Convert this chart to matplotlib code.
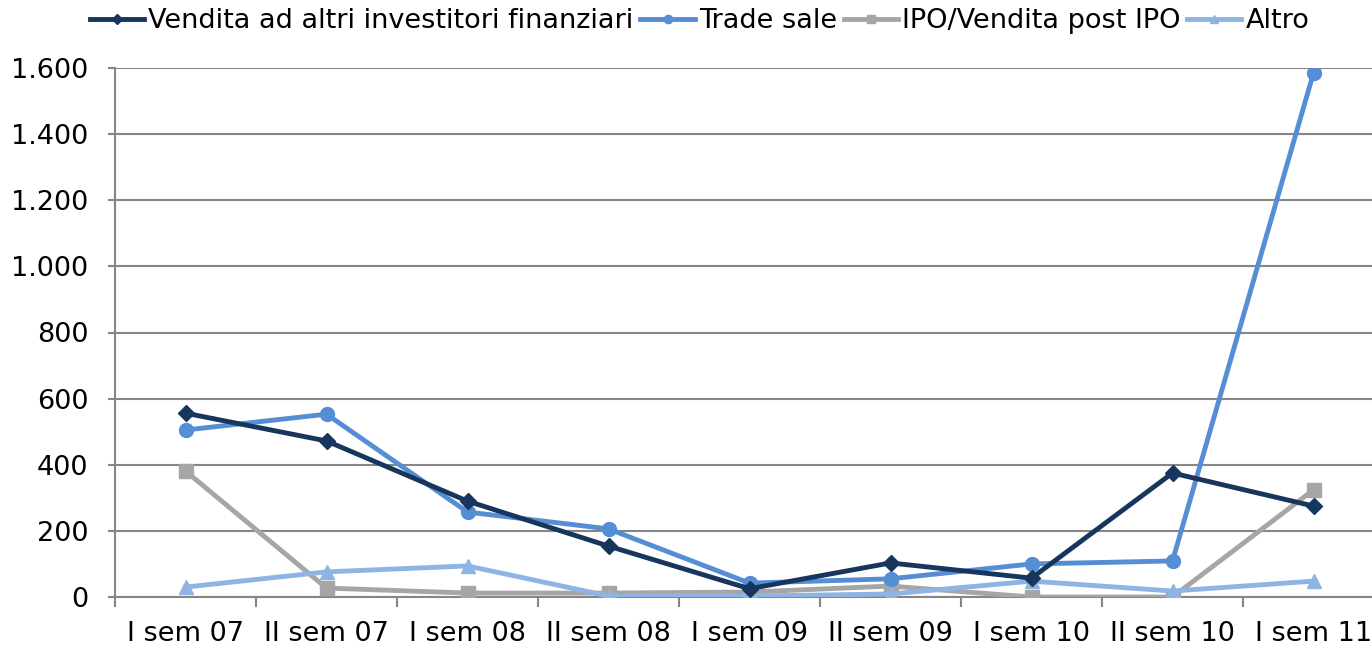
import matplotlib
matplotlib.use("Agg")
import matplotlib.pyplot as plt
import numpy as np

# Data
categorie = ['I sem 07', 'II sem 07', 'I sem 08', 'II sem 08', 'I sem 09',
             'II sem 09', 'I sem 10', 'II sem 10', 'I sem 11']
vendita_investitori = [556, 472, 290, 154, 25, 103, 57, 375, 275]
trade_sale = [505, 553, 257, 206, 42, 55, 100, 109, 1585]
ipo_vendita = [381, 27, 12, 12, 15, 33, 0, 0, 324]
altro = [30, 76, 94, 3, 3, 9, 48, 18, 48]

plt.rcParams['font.family'] = ['DejaVu Sans']
fs = 19.5

fig = plt.figure(figsize=(13.72, 6.46), dpi=100)
ax = fig.add_axes([115/1372, 49/646, 1269/1372, 529/646])

x = np.arange(len(categorie))
ax.plot(x, vendita_investitori, color='#17365D', lw=3.5, marker='D', ms=8,
        label='Vendita ad altri investitori finanziari', zorder=5)
ax.plot(x, trade_sale, color='#558ED5', lw=3.5, marker='o', ms=10,
        label='Trade sale', zorder=4)
ax.plot(x, ipo_vendita, color='#A6A6A6', lw=3.5, marker='s', ms=10,
        label='IPO/Vendita post IPO', zorder=3)
ax.plot(x, altro, color='#8EB4E3', lw=3.5, marker='^', ms=10,
        label='Altro', zorder=3)

ax.set_xlim(-0.5, len(categorie) - 0.5)
ax.set_ylim(0, 1600)
ax.set_yticks(np.arange(0, 1601, 200))
ax.set_yticklabels([f'{v:,}'.replace(',', '.') for v in range(0, 1601, 200)])
ax.set_xticks(x)
ax.set_xticklabels(categorie)
ax.set_xticks(np.arange(-0.5, len(categorie), 1), minor=True)

ax.tick_params(axis='x', which='major', length=0, pad=17, labelsize=fs)
ax.tick_params(axis='x', which='minor', length=7, width=1.5, color='#868686', direction='out')
ax.tick_params(axis='y', length=5, width=1.5, color='#868686', pad=14, labelsize=fs)

ax.yaxis.grid(True, color='#868686', lw=1.5)
ax.set_axisbelow(True)
for s in ['top', 'right']:
    ax.spines[s].set_visible(False)
for s in ['left', 'bottom']:
    ax.spines[s].set_color('#868686')
    ax.spines[s].set_linewidth(1.5)

fig.legend(loc='upper center', bbox_to_anchor=(0.51, 1.025), ncol=4, frameon=False,
           fontsize=fs, handlelength=2.0, handletextpad=0.15, columnspacing=0.25,
           markerscale=0.6)

fig.savefig('out.png', dpi=100)
